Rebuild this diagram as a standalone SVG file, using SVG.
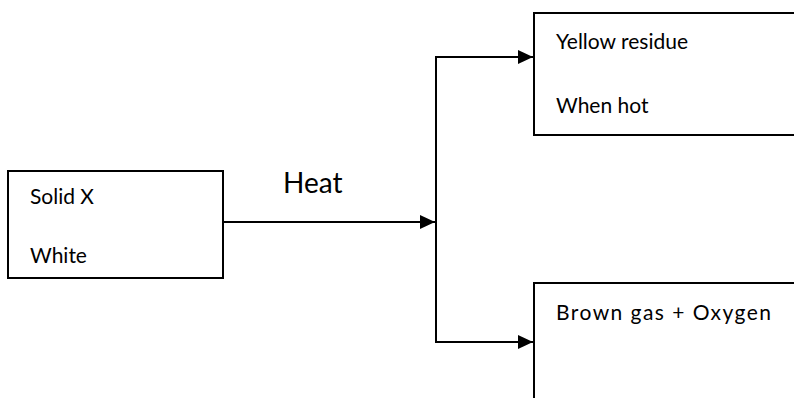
<svg xmlns="http://www.w3.org/2000/svg" width="794" height="398" viewBox="0 0 794 398">
<style>
.box{fill:#fff;stroke:#000;stroke-width:2}
.lbl{font-family:Lato,"Open Sans","Liberation Sans",sans-serif;font-size:21px;fill:#000}
.heat{font-family:Lato,"Open Sans","Liberation Sans",sans-serif;font-size:28px;fill:#000}
.conn{fill:none;stroke:#000;stroke-width:2}
</style>
<defs>
<marker id="arr" markerUnits="userSpaceOnUse" markerWidth="16" markerHeight="14" refX="15" refY="7" orient="auto">
<path d="M0,0 L15,7 L0,14 Z" fill="#000"/>
</marker>
</defs>
<g id="connectors">
<line class="conn" x1="223" y1="222" x2="435" y2="222" marker-end="url(#arr)"/>
<polyline class="conn" points="533,57 436,57 436,342 533,342" marker-end="url(#arr)"/>
<line class="conn" x1="436" y1="57" x2="533" y2="57" marker-end="url(#arr)"/>
<text class="heat" x="283" y="193">Heat</text>
</g>
<g id="solidX">
<rect class="box" x="8" y="171" width="215" height="107"/>
<text class="lbl" x="30" y="204">Solid X</text>
<text class="lbl" x="30" y="263">White</text>
</g>
<g id="yellow">
<rect class="box" x="534" y="13" width="270" height="122"/>
<text class="lbl" x="556" y="49">Yellow residue</text>
<text class="lbl" x="556" y="113">When hot</text>
</g>
<g id="brown">
<rect class="box" x="534" y="283" width="270" height="130"/>
<text class="lbl" x="556" y="320" textLength="215" lengthAdjust="spacing">Brown gas + Oxygen</text>
</g>
</svg>
